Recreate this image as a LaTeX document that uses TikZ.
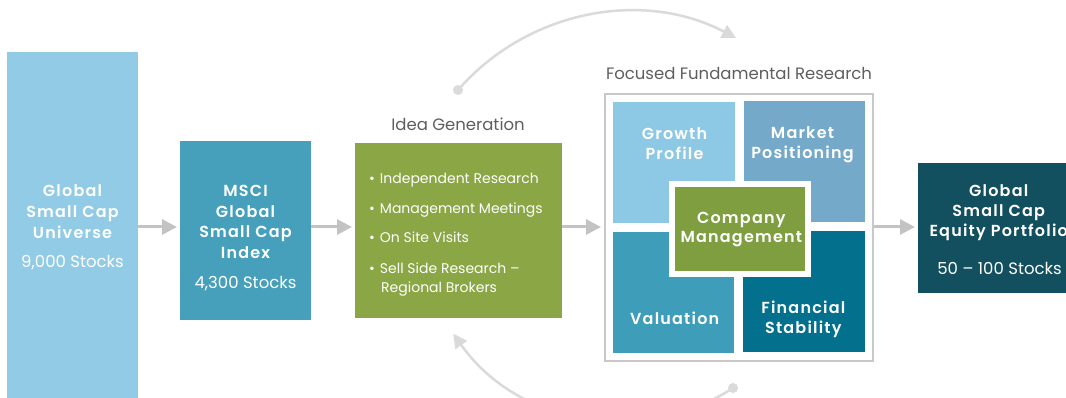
\documentclass[tikz,border=0pt]{standalone}
\usepackage{fontspec}
\setmainfont{Poppins}
\newfontfamily\headfont{Poppins SemiBold}[LetterSpace=7.5]
\newfontfamily\bodyfont{Poppins}
\usetikzlibrary{arrows.meta}
\definecolor{cUni}{HTML}{92CBE6}
\definecolor{cMsci}{HTML}{46A0BB}
\definecolor{cIdea}{HTML}{8AA645}
\definecolor{cGrow}{HTML}{8DC8E4}
\definecolor{cMkt}{HTML}{74A9C9}
\definecolor{cVal}{HTML}{3E9DB8}
\definecolor{cFin}{HTML}{03708E}
\definecolor{cComp}{HTML}{7E9E40}
\definecolor{cPort}{HTML}{124F5F}
\definecolor{cArr}{HTML}{C3C3C3}
\definecolor{cArc}{HTML}{DADADA}
\definecolor{cFrame}{HTML}{C8C8C8}
\definecolor{cLabel}{HTML}{5E5E5E}
\begin{document}
\begin{tikzpicture}[x=1pt,y=1pt,
  blk/.style={draw=none,inner sep=0pt,outer sep=0pt,anchor=north west},
  head/.style={text=white,inner sep=0pt,anchor=base,font=\headfont\fontsize{16}{19}\selectfont},
  body/.style={text=white,inner sep=0pt,anchor=base,font=\bodyfont\fontsize{16.5}{19}\selectfont},
  blt/.style={text=white,inner sep=0pt,anchor=base west,font=\bodyfont\fontsize{14}{17}\selectfont},
  lbl/.style={text=cLabel,inner sep=0pt,anchor=base,font=\bodyfont\fontsize{16.5}{19}\selectfont},
  flow/.style={draw=cArr,line width=3pt,-{Triangle[length=15pt,width=15pt]},shorten >=3pt},
  loop/.style={draw=cArc,line width=2.5pt,-{Triangle[length=14pt,width=14pt]}},
  dot/.style={circle,fill=cArc,inner sep=0pt,minimum size=10pt}]
\useasboundingbox (0,0) rectangle (1066,-398);
\clip (0,0) rectangle (1066,-398);
\coordinate (axis) at (0,-227);
% blocks
\node[blk,fill=cUni,minimum width=131,minimum height=346] (uni) at (7,-52) {};
\node[blk,fill=cMsci,minimum width=131,minimum height=179] (msci) at (180,-141) {};
\node[blk,fill=cIdea,minimum width=207,minimum height=175] (idea) at (355,-143) {};
\node[blk,draw=cFrame,line width=2pt,minimum width=268,minimum height=267] (frame) at (605,-94) {};
\node[blk,fill=cGrow,minimum width=122,minimum height=121] (grow) at (613,-102) {};
\node[blk,fill=cMkt,minimum width=121,minimum height=121] (mkt) at (744,-101) {};
\node[blk,fill=cVal,minimum width=121,minimum height=121] (val) at (613,-232) {};
\node[blk,fill=cFin,minimum width=122,minimum height=121] (fin) at (743,-231) {};
\node[blk,fill=white,minimum width=142,minimum height=96] (compw) at (669,-181) {};
\node[blk,fill=cComp,minimum width=130,minimum height=84] (comp) at (675,-187) {};
\node[blk,fill=cPort,minimum width=160,minimum height=130] (port) at (918,-163) {};
% texts box 1
\node[head] (u1) at (72.5,-197) {Global};
\node[head] (u2) at (72.5,-218) {Small Cap};
\node[head] (u3) at (72.5,-239) {Universe};
\node[body] (u4) at (72.5,-268) {9,000 Stocks};
% box 2
\node[head] (m1) at (245.5,-197) {MSCI};
\node[head] (m2) at (245.5,-217.5) {Global};
\node[head] (m3) at (245.5,-238) {Small Cap};
\node[head] (m4) at (245.5,-258.5) {Index};
\node[body] (m5) at (245.5,-288) {4,300 Stocks};
% idea
\node[lbl] (ideal) at (458,-130.7) {Idea Generation};
\node[blt] (b1) at (369,-183.3) {\textbullet\hspace{5pt}Independent Research};
\node[blt] (b2) at (369,-213.3) {\textbullet\hspace{5pt}Management Meetings};
\node[blt] (b3) at (369,-242.7) {\textbullet\hspace{5pt}On Site Visits};
\node[blt] (b4) at (369,-273.3) {\textbullet\hspace{5pt}Sell Side Research –};
\node[blt] (b5) at (381,-292) {Regional Brokers};
% focused
\node[lbl] (focl) at (739,-79.3) {Focused Fundamental Research};
\node[head] (g1) at (674.5,-139.3) {Growth};
\node[head] (g2) at (674.5,-159.3) {Profile};
\node[head] (k1) at (802.5,-138.3) {Market};
\node[head] (k2) at (802.5,-158.7) {Positioning};
\node[head] (c1) at (741.3,-223.3) {Company};
\node[head] (c2) at (741.3,-242.7) {Management};
\node[head] (v1) at (674.7,-324.3) {Valuation};
\node[head] (f1) at (803.3,-313.3) {Financial};
\node[head] (f2) at (803.3,-333.3) {Stability};
% portfolio
\node[head] (p1) at (998.7,-196.7) {Global};
\node[head] (p2) at (998.7,-216.7) {Small Cap};
\node[head] (p3) at (998.7,-236.7) {Equity Portfolio};
\node[body] (p4) at (999.5,-274) {50 – 100 Stocks};
% flow arrows
\draw[flow] (uni.east|-axis) -- (msci.west|-axis);
\draw[flow] (msci.east|-axis) -- (idea.west|-axis);
\draw[flow] (idea.east|-axis) -- ([xshift=-1pt]frame.west|-axis);
\draw[flow] ([xshift=1pt]frame.east|-axis) -- (port.west|-axis);
% loop arrows
\node[dot] (dA) at (458,-90) {};
\draw[loop] (dA.center) arc[start angle=138.9,end angle=62.3,radius=228.2pt];
\node[dot] (dB) at (733,-388) {};
\draw[loop] (dB.center) arc[start angle=-57.1,end angle=-144.9,radius=205.5pt];
\end{tikzpicture}
\end{document}
